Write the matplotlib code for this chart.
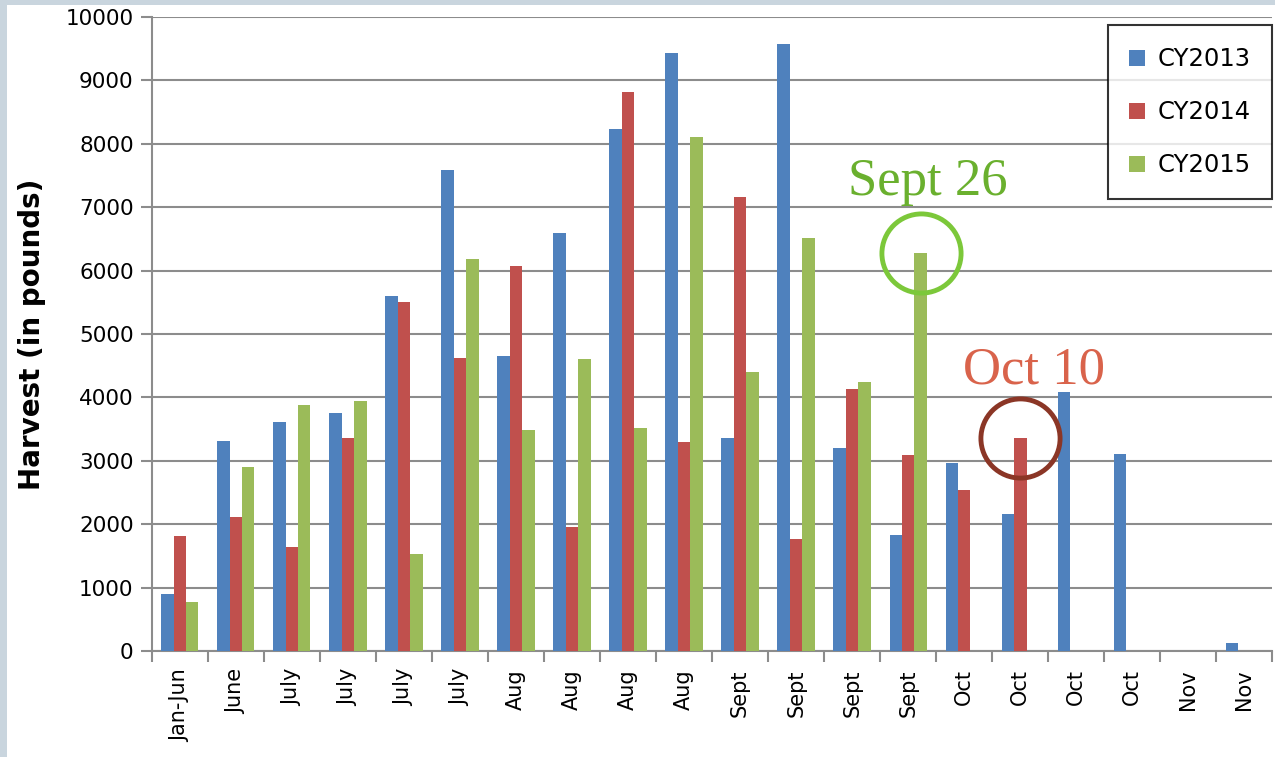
import matplotlib.pyplot as plt
import numpy as np
from matplotlib.patches import Rectangle

# category labels along the x axis
categories = ['Jan-Jun', 'June', 'July', 'July', 'July', 'July', 'Aug', 'Aug', 'Aug', 'Aug',
              'Sept', 'Sept', 'Sept', 'Sept', 'Oct', 'Oct', 'Oct', 'Oct', 'Nov', 'Nov']

# harvest in pounds
cy2013 = [900, 3320, 3620, 3750, 5600, 7580, 4660, 6600, 8240, 9440,
          3360, 9580, 3200, 1830, 2970, 2160, 4080, 3100, 0, 130]
cy2014 = [1820, 2110, 1640, 3360, 5500, 4620, 6080, 1950, 8820, 3290,
          7160, 1760, 4140, 3090, 2540, 3360, 0, 0, 0, 0]
cy2015 = [780, 2900, 3880, 3950, 1530, 6180, 3480, 4600, 3520, 8110,
          4400, 6510, 4240, 6280, 0, 0, 0, 0, 0, 0]

series_names = ['CY2013', 'CY2014', 'CY2015']
colors = ['#4f81bd', '#c0504d', '#9bbb59']

fig = plt.figure(figsize=(12.75, 7.57), dpi=100, facecolor='#c9d5de')
# white panel inside the grey frame
fig.patches.append(Rectangle((7 / 1275, 0), 1 - 7 / 1275, 1 - 5 / 757,
                             transform=fig.transFigure, facecolor='white',
                             edgecolor='none', zorder=-10))

ax = fig.add_axes([0.119, 0.140, 0.879, 0.8375])
ax.set_facecolor('white')

x = np.arange(len(categories))
w = 1 / 4.5
for i, (vals, name, c) in enumerate(zip([cy2013, cy2014, cy2015], series_names, colors)):
    ax.bar(x + (i - 1) * w, vals, width=w, color=c, label=name, zorder=3)

ax.set_xlim(-0.5, len(categories) - 0.5)
ax.set_ylim(0, 10000)
ax.set_yticks(np.arange(0, 10001, 1000))
ax.yaxis.grid(True, color='#8c8c8c', linewidth=1.5, zorder=0)
ax.set_axisbelow(True)

for s in ['top', 'right']:
    ax.spines[s].set_visible(False)
for s in ['left', 'bottom']:
    ax.spines[s].set_color('#8c8c8c')
    ax.spines[s].set_linewidth(1.5)

# x ticks at the category boundaries, labels at the centres
ax.set_xticks(np.arange(-0.5, len(categories), 1))
ax.set_xticklabels([])
ax.set_xticks(x, minor=True)
ax.set_xticklabels(categories, minor=True, rotation=90, fontsize=15, va='top')
ax.tick_params(axis='x', which='major', length=8, width=1.5, color='#8c8c8c', direction='out')
ax.tick_params(axis='x', which='minor', length=0, pad=13)
ax.tick_params(axis='y', length=8, width=1.5, color='#8c8c8c', labelsize=15.5, pad=5)

ax.set_ylabel('Harvest (in pounds)', fontsize=20, fontweight='bold', labelpad=14)

leg = ax.legend(loc='upper right', bbox_to_anchor=(1.0, 0.987), fontsize=17.5,
                frameon=True, fancybox=False, edgecolor='black', handlelength=0.65,
                handleheight=0.65, handletextpad=0.5, labelspacing=1.2,
                borderpad=0.9, borderaxespad=0.0)
leg.get_frame().set_linewidth(1.5)

# highlighted bars
ax.plot(13 + w, 6280, 'o', ms=57, mfc='none', mec='#7cc83a', mew=3.5, zorder=5, clip_on=False)
ax.text(13.35, 7400, 'Sept 26', fontsize=38, family='Liberation Serif', color='#6ab02e',
        ha='center', va='center', zorder=6)
ax.plot(15, 3360, 'o', ms=57, mfc='none', mec='#8b3626', mew=3.5, zorder=5, clip_on=False)
ax.text(15.25, 4430, 'Oct 10', fontsize=38, family='Liberation Serif', color='#d9634b',
        ha='center', va='center', zorder=6)

fig.savefig('out.png', dpi=100, facecolor=fig.get_facecolor())
